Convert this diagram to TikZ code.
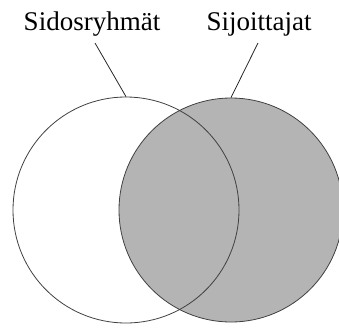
\documentclass[tikz,border=0pt]{standalone}
\usepackage{fontspec}
\setmainfont{Liberation Serif}
\usepackage{tikz}
\usetikzlibrary{positioning}
\definecolor{vennfill}{RGB}{180,180,180}

\begin{document}
\begin{tikzpicture}[
  x=1pt, y=-1pt,
  set/.style={circle, draw=black!75, line width=0.8pt,
              minimum size=226pt, inner sep=0pt},
  lbl/.style={font=\fontsize{27}{30}\selectfont, inner sep=0pt, anchor=base},
  leader/.style={draw=black!85, line width=0.8pt},
]
\useasboundingbox (0,0) rectangle (339,327);
\clip (0,0) rectangle (339,327);

% Sets
\node[set, fill=vennfill, minimum size=224pt] (investors) at (231,210) {};
\node[set] (stakeholders) at (126,210) {};

% Labels
\node[lbl] (stakelbl) at (92,30) {Sidosryhmät};
\node[lbl] (invlbl) at (259,30) {Sijoittajat};

% Leader lines
\draw[leader] ([shift={(3,7)}]stakelbl.south) -- (stakeholders.north);
\draw[leader] ([shift={(-1,7)}]invlbl.south) -- (investors.north);

\end{tikzpicture}
\end{document}
